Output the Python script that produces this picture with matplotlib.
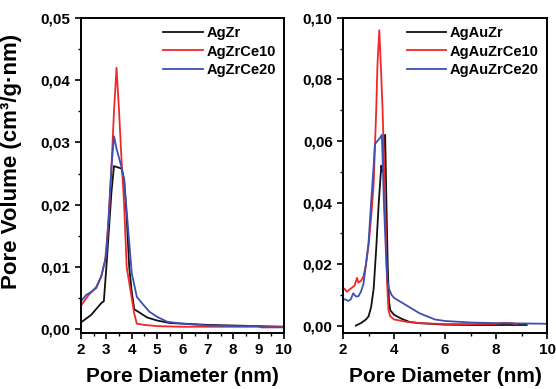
import matplotlib.pyplot as plt
from matplotlib.ticker import MultipleLocator, FuncFormatter

plt.rcParams['font.family'] = ['Liberation Sans', 'DejaVu Sans']
plt.rcParams['font.weight'] = 'bold'

# Left panel data (Ag/Zr series)
agzr_x = [2.0, 2.4, 2.8, 2.9, 3.0, 3.1, 3.2, 3.3, 3.45, 3.6, 3.7, 3.8, 3.9, 4.0, 4.1,
          4.3, 4.6, 5.0, 5.5, 6.0, 7.0, 8.0, 9.0, 10.0]
agzr_y = [0.0011, 0.0023, 0.0042, 0.0045, 0.010, 0.016, 0.022, 0.0262, 0.026, 0.0258,
          0.024, 0.018, 0.010, 0.006, 0.0032, 0.0027, 0.0019, 0.0014, 0.0010, 0.0009,
          0.0007, 0.0006, 0.0005, 0.0004]

agzrce10_x = [2.0, 2.3, 2.6, 2.8, 2.95, 3.1, 3.2, 3.3, 3.4, 3.5, 3.6, 3.7, 3.8, 3.9, 4.0,
              4.1, 4.2, 4.5, 5.0, 6.0, 7.0, 8.0, 9.0, 10.0]
agzrce10_y = [0.0038, 0.0055, 0.0068, 0.0085, 0.011, 0.018, 0.026, 0.035, 0.042, 0.035,
              0.027, 0.020, 0.010, 0.0075, 0.005, 0.0025, 0.0009, 0.0007, 0.0005, 0.0004,
              0.0004, 0.0004, 0.0004, 0.0004]

agzrce20_x = [2.0, 2.2, 2.4, 2.6, 2.8, 3.0, 3.1, 3.2, 3.3, 3.4, 3.5, 3.6, 3.7, 3.8, 3.9,
              4.0, 4.2, 4.4, 4.7, 5.0, 5.4, 6.0, 7.0, 8.0, 9.0, 9.1, 10.0]
agzrce20_y = [0.0045, 0.0055, 0.006, 0.0066, 0.0085, 0.012, 0.019, 0.026, 0.031, 0.029,
              0.0275, 0.026, 0.024, 0.019, 0.014, 0.009, 0.0052, 0.0042, 0.0028, 0.0020,
              0.0012, 0.0009, 0.0006, 0.0005, 0.0005, 0.0003, 0.0003]

# Right panel data (Ag/Au/Zr series)
agauzr_x = [2.5, 2.7, 2.9, 3.0, 3.1, 3.2, 3.3, 3.4, 3.5, 3.55, 3.6, 3.65, 3.7, 3.75, 3.8,
            3.85, 4.0, 4.3, 4.6, 5.0, 6.0, 7.0, 8.0, 9.2]
agauzr_y = [0.0, 0.0008, 0.002, 0.003, 0.006, 0.012, 0.025, 0.040, 0.052, 0.050, 0.060,
            0.062, 0.040, 0.020, 0.008, 0.005, 0.0035, 0.0022, 0.0012, 0.0008, 0.0003,
            0.0002, 0.0002, 0.0002]

agauzrce10_x = [2.0, 2.05, 2.15, 2.3, 2.45, 2.55, 2.6, 2.7, 2.8, 2.9, 3.0, 3.1, 3.2, 3.25,
                3.3, 3.35, 3.42, 3.48, 3.55, 3.62, 3.68, 3.72, 3.78, 3.85, 4.0, 4.5, 5.0,
                6.0, 7.0, 8.0, 8.3, 8.6, 8.8]
agauzrce10_y = [0.0116, 0.012, 0.011, 0.012, 0.013, 0.0155, 0.014, 0.0145, 0.016, 0.020,
                0.026, 0.035, 0.046, 0.058, 0.070, 0.085, 0.096, 0.085, 0.070, 0.050,
                0.030, 0.015, 0.005, 0.003, 0.002, 0.0012, 0.0008, 0.0005, 0.0005,
                0.0006, 0.0009, 0.0008, 0.0005]

agauzrce20_x = [2.0, 2.1, 2.2, 2.3, 2.4, 2.5, 2.6, 2.7, 2.8, 2.9, 3.0, 3.1, 3.2, 3.25,
                3.35, 3.45, 3.52, 3.55, 3.6, 3.65, 3.7, 3.75, 3.8, 3.9, 4.0, 4.2, 4.5,
                4.8, 5.0, 5.3, 5.6, 6.0, 7.0, 8.0, 9.0, 10.0]
agauzrce20_y = [0.0085, 0.0085, 0.008, 0.0085, 0.0105, 0.0095, 0.0095, 0.011, 0.0135,
                0.020, 0.027, 0.040, 0.052, 0.059, 0.060, 0.061, 0.062, 0.055, 0.040,
                0.030, 0.020, 0.014, 0.012, 0.010, 0.009, 0.008, 0.0065, 0.005, 0.004,
                0.003, 0.002, 0.0015, 0.001, 0.0008, 0.0007, 0.0006]

black = '#111111'
red = '#f02828'
blue = '#3a50b4'

fig = plt.figure(figsize=(5.56, 3.89), dpi=100)
ax1 = fig.add_axes([0.1457, 0.144, 0.365, 0.81])
ax2 = fig.add_axes([0.617, 0.144, 0.367, 0.81])

comma = FuncFormatter(lambda v, p: f'{v:.2f}'.replace('.', ','))

ax1.plot(agzr_x, agzr_y, color=black, lw=1.3, label='AgZr')
ax1.plot(agzrce10_x, agzrce10_y, color=red, lw=1.3, label='AgZrCe10')
ax1.plot(agzrce20_x, agzrce20_y, color=blue, lw=1.3, label='AgZrCe20')
ax1.set_xlim(2, 10)
ax1.set_ylim(-0.0006, 0.05)
ax1.xaxis.set_major_locator(MultipleLocator(1))
ax1.xaxis.set_minor_locator(MultipleLocator(0.5))
ax1.yaxis.set_major_locator(MultipleLocator(0.01))
ax1.yaxis.set_minor_locator(MultipleLocator(0.005))
ax1.set_ylabel('Pore Volume (cm³/g·nm)', fontsize=16, fontweight='bold')
ax1.yaxis.set_label_coords(-0.29, 0.545)

ax2.plot(agauzr_x, agauzr_y, color=black, lw=1.3, label='AgAuZr')
ax2.plot(agauzrce10_x, agauzrce10_y, color=red, lw=1.3, label='AgAuZrCe10')
ax2.plot(agauzrce20_x, agauzrce20_y, color=blue, lw=1.3, label='AgAuZrCe20')
ax2.set_xlim(2, 10)
ax2.set_ylim(-0.0024, 0.10)
ax2.xaxis.set_major_locator(MultipleLocator(2))
ax2.xaxis.set_minor_locator(MultipleLocator(1))
ax2.yaxis.set_major_locator(MultipleLocator(0.02))
ax2.yaxis.set_minor_locator(MultipleLocator(0.01))

for ax in (ax1, ax2):
    ax.yaxis.set_major_formatter(comma)
    ax.set_xlabel('Pore Diameter (nm)', fontsize=15, fontweight='bold', labelpad=7)
    ax.tick_params(which='major', direction='out', length=4, width=1.2, labelsize=11)
    ax.tick_params(which='minor', direction='out', length=2.5, width=1.0)
    for s in ax.spines.values():
        s.set_linewidth(1.4)
    ax.legend(loc='upper right', frameon=False, handlelength=2.7,
              handletextpad=0.25, labelspacing=0.32, borderaxespad=0.15,
              prop={'weight': 'bold', 'size': 10.5})

fig.savefig('out.png', dpi=100)
